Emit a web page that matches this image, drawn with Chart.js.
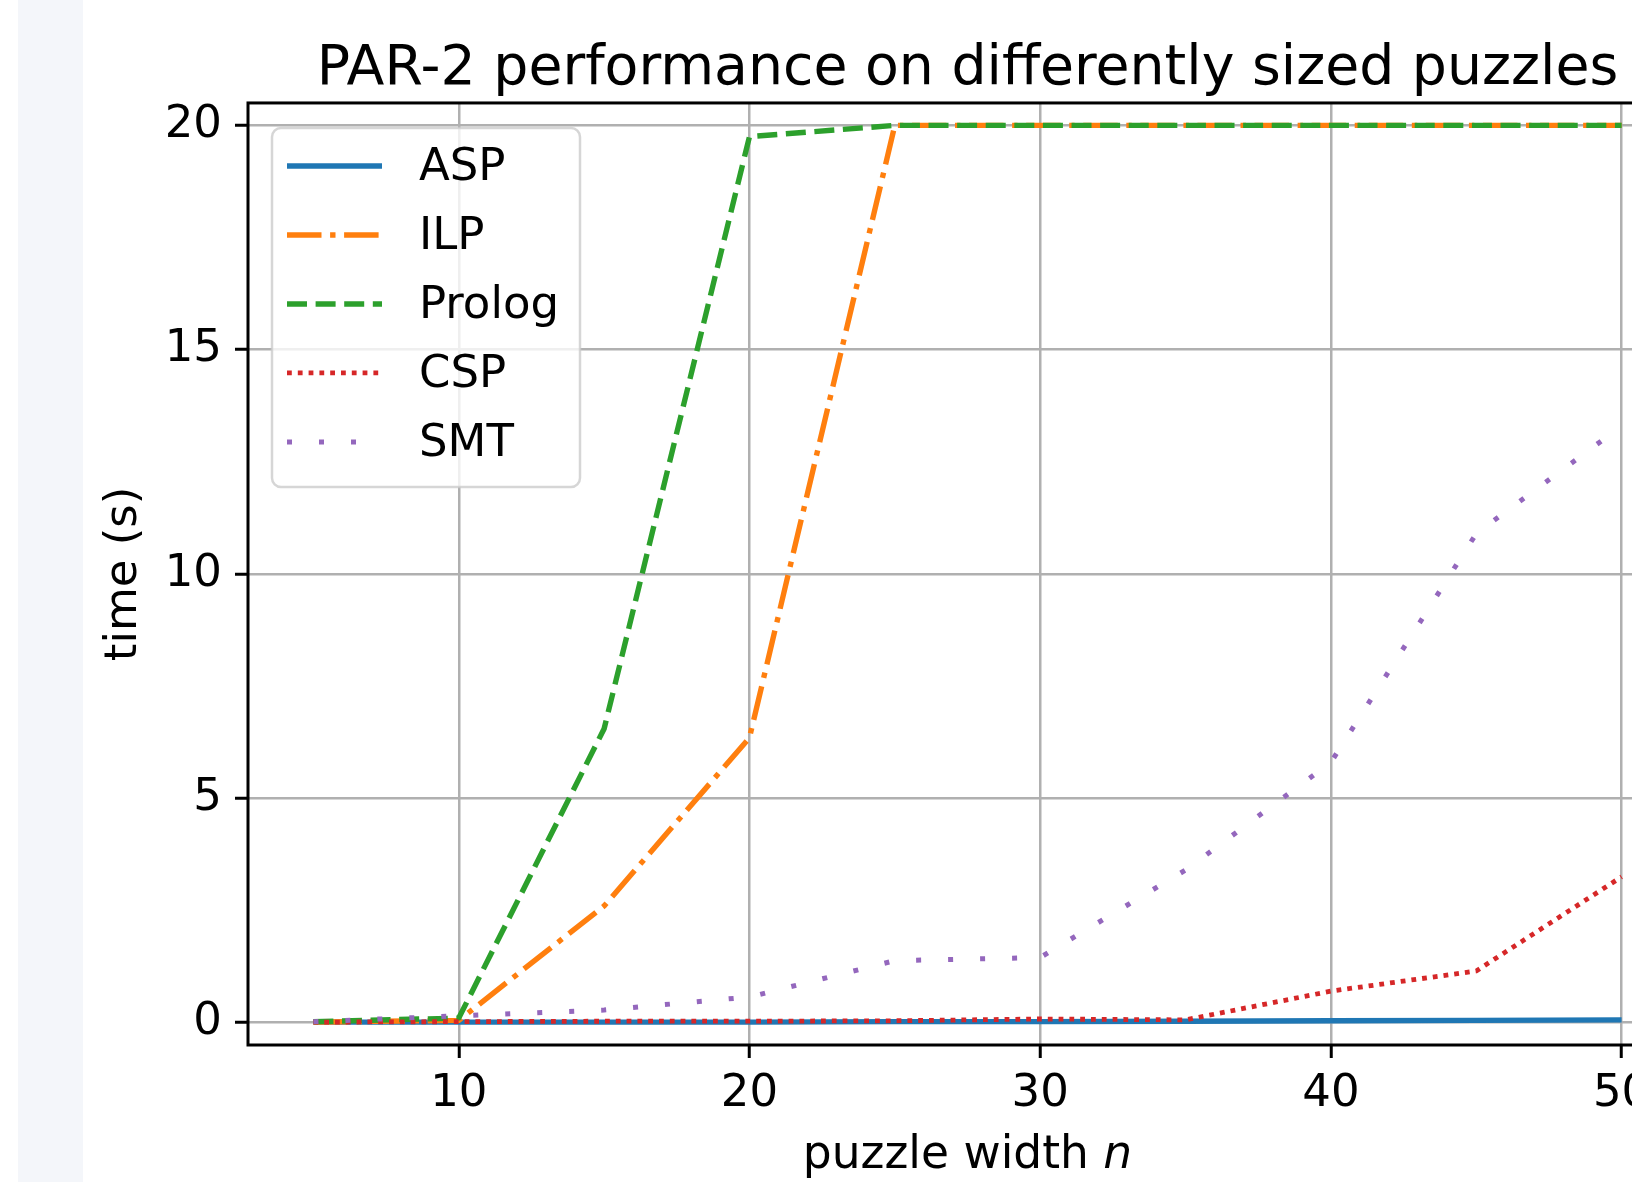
<!DOCTYPE html>
<html>
<head>
<meta charset="utf-8">
<script src="https://cdn.jsdelivr.net/npm/chart.js@4.4.1/dist/chart.umd.min.js"></script>
<style>
  html, body { margin: 0; padding: 0; background: #fff; overflow: hidden; width: 1632px; height: 1182px; }
  #strip { position: absolute; left: 18px; top: 0; width: 65px; height: 1182px; background: #f4f6fa; }
  #plot { position: absolute; left: 0; top: 0; }
</style>
</head>
<body>
<div id="strip"></div>
<canvas id="plot" width="1760" height="1182"></canvas>
<script>
// puzzle widths (x) and PAR-2 times in seconds per solver
const widths = [5, 10, 15, 20, 25, 30, 35, 40, 45, 50];
const aspTimes = [0.01, 0.01, 0.01, 0.01, 0.02, 0.02, 0.03, 0.04, 0.05, 0.06];
const ilpTimes = [0.01, 0.05, 2.6, 6.35, 20, 20, 20, 20, 20, 20];
const prologTimes = [0.02, 0.1, 6.55, 19.75, 20, 20, 20, 20, 20, 20];
const cspTimes = [0.01, 0.02, 0.03, 0.03, 0.04, 0.08, 0.06, 0.7, 1.15, 3.25];
const smtTimes = [0.02, 0.15, 0.28, 0.57, 1.38, 1.45, 3.4, 5.8, 10.9, 13.3];

const xTicks = [10, 20, 30, 40, 50];
const yTicks = [0, 5, 10, 15, 20];

const FONT = "'DejaVu Sans', sans-serif";

function series(values) {
    return widths.map((n, i) => ({ x: n, y: values[i] }));
}

// black box round the plot area (matplotlib spines)
const framePlugin = {
    id: 'frame',
    afterDatasetsDraw(chart) {
        const { ctx, chartArea: a } = chart;
        ctx.save();
        ctx.strokeStyle = '#000';
        ctx.lineWidth = 3;
        ctx.strokeRect(a.left, a.top, a.right - a.left, a.bottom - a.top);
        ctx.restore();
    }
};

// legend box in the upper left corner of the plot
const boxLegend = {
    id: 'boxLegend',
    afterDraw(chart) {
        const { ctx, chartArea: a } = chart;
        const x = a.left + 24, y = a.top + 25, w = 308, h = 359;
        ctx.save();
        ctx.beginPath();
        ctx.roundRect(x, y, w, h, 9);
        ctx.fillStyle = 'rgba(255,255,255,0.8)';
        ctx.fill();
        ctx.strokeStyle = 'rgba(204,204,204,0.8)';
        ctx.lineWidth = 2.5;
        ctx.stroke();
        chart.data.datasets.forEach((ds, i) => {
            const ry = y + 38 + i * 69;
            ctx.beginPath();
            ctx.setLineDash(ds.borderDash || []);
            ctx.lineDashOffset = 0;
            ctx.lineCap = 'butt';
            ctx.strokeStyle = ds.borderColor;
            ctx.lineWidth = ds.borderWidth;
            ctx.moveTo(x + 15, ry);
            ctx.lineTo(x + 110, ry);
            ctx.stroke();
            ctx.setLineDash([]);
            ctx.fillStyle = '#000';
            ctx.font = '45px ' + FONT;
            ctx.textBaseline = 'middle';
            ctx.textAlign = 'left';
            ctx.fillText(ds.label, x + 147, ry + 2);
        });
        ctx.restore();
    }
};

// x axis title, with the italic n
const xTitle = {
    id: 'xTitle',
    afterDraw(chart) {
        const { ctx, chartArea: a } = chart;
        const base = 'puzzle width ';
        ctx.save();
        ctx.fillStyle = '#000';
        ctx.textBaseline = 'alphabetic';
        ctx.textAlign = 'left';
        ctx.font = '45.5px ' + FONT;
        const w1 = ctx.measureText(base).width;
        ctx.font = 'italic 45.5px ' + FONT;
        const w2 = ctx.measureText('n').width;
        const x0 = (a.left + a.right) / 2 - (w1 + w2) / 2;
        const y = a.bottom + 123;
        ctx.font = '45.5px ' + FONT;
        ctx.fillText(base, x0, y);
        ctx.font = 'italic 45.5px ' + FONT;
        ctx.fillText('n', x0 + w1, y);
        ctx.restore();
    }
};

new Chart(document.getElementById('plot').getContext('2d'), {
    type: 'line',
    data: {
        datasets: [
            { label: 'ASP', data: series(aspTimes), borderColor: '#1f77b4', borderWidth: 5.4, borderDash: [], order: 5 },
            { label: 'ILP', data: series(ilpTimes), borderColor: '#ff7f0e', borderWidth: 5.4, borderDash: [34.5, 8.6, 5.4, 8.6], order: 4 },
            { label: 'Prolog', data: series(prologTimes), borderColor: '#2ca02c', borderWidth: 5.4, borderDash: [20, 8.6], order: 3 },
            { label: 'CSP', data: series(cspTimes), borderColor: '#d62728', borderWidth: 4.8, borderDash: [4.8, 6], order: 2 },
            { label: 'SMT', data: series(smtTimes), borderColor: '#9467bd', borderWidth: 5, borderDash: [5, 27], order: 1 }
        ]
    },
    options: {
        responsive: false,
        animation: false,
        elements: {
            point: { radius: 0, hoverRadius: 0 },
            line: { tension: 0, borderCapStyle: 'butt', borderJoinStyle: 'round', fill: false }
        },
        layout: { padding: { left: 0, right: 73, top: 0, bottom: 0 } },
        plugins: {
            legend: { display: false },
            tooltip: { enabled: false },
            title: {
                display: true,
                fullSize: false,
                text: 'PAR-2 performance on differently sized puzzles',
                color: '#000',
                font: { family: FONT, size: 55.3, weight: 'normal' },
                padding: { top: 36.3, bottom: 0.3 }
            }
        },
        scales: {
            x: {
                type: 'linear',
                position: 'bottom',
                min: 2.75,
                max: 52.25,
                afterBuildTicks: scale => { scale.ticks = xTicks.map(v => ({ value: v })); },
                afterFit: scale => { scale.height = 137; },
                ticks: {
                    color: '#000',
                    font: { family: FONT, size: 45 },
                    padding: 9,
                    maxRotation: 0,
                    autoSkip: false
                },
                grid: { color: '#b0b0b0', lineWidth: 2.5, tickColor: '#000', tickLength: 13, tickWidth: 3 },
                border: { display: false }
            },
            y: {
                type: 'linear',
                min: -0.5,
                max: 20.5,
                afterBuildTicks: scale => { scale.ticks = yTicks.map(v => ({ value: v })); },
                afterFit: scale => { scale.width = 248; },
                ticks: {
                    color: '#000',
                    font: { family: FONT, size: 45 },
                    padding: 13
                },
                grid: { color: '#b0b0b0', lineWidth: 2.5, tickColor: '#000', tickLength: 13, tickWidth: 3 },
                border: { display: false },
                title: {
                    display: true,
                    text: 'time (s)',
                    color: '#000',
                    font: { family: FONT, size: 45 },
                    padding: { top: 97, bottom: 0 }
                }
            }
        }
    },
    plugins: [framePlugin, boxLegend, xTitle]
});
</script>
</body>
</html>
